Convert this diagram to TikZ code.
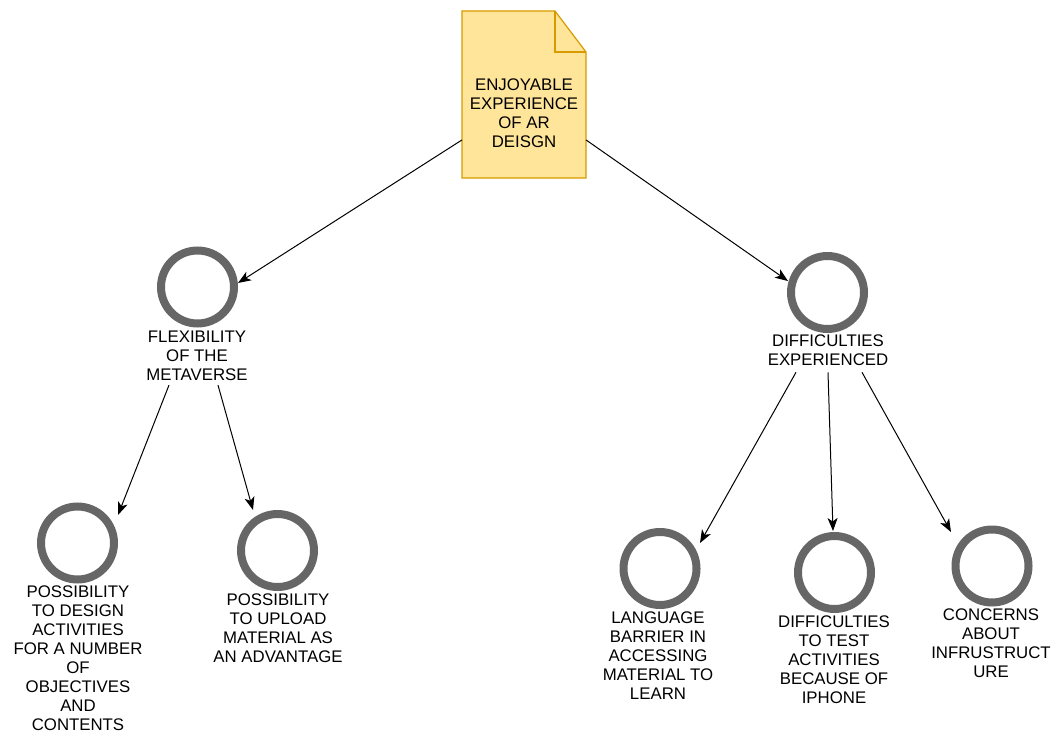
\documentclass[tikz,border=0pt]{standalone}
\usepackage{fontspec}
\setmainfont{Liberation Sans}
\usetikzlibrary{arrows.meta,calc}
\definecolor{notefill}{HTML}{FFE599}
\definecolor{noteline}{HTML}{D79B00}
\definecolor{ringgray}{HTML}{666666}
\begin{document}
\begin{tikzpicture}[x=1pt,y=-1pt,
  ring/.style={circle,draw=ringgray,line width=8pt,fill=white,minimum size=73pt,inner sep=0pt,outer sep=4pt},
  caption/.style={font=\fontsize{16.8}{19}\selectfont,align=center,inner sep=0pt,anchor=north},
  arr/.style={-{Stealth[length=13pt,width=10pt,inset=3.5pt]},line width=1pt,black},
  notebox/.style={minimum width=124pt,minimum height=167pt,inner sep=0pt,outer sep=0pt}]
\useasboundingbox (0,0) rectangle (1057,733);

% document-shaped root node with folded corner
\node[notebox] (note) at (524,94.5) {};
\draw[noteline,fill=notefill,line width=1.2pt,line join=miter]
  (note.south west) -- (note.north west) -- ($(note.north east)+(-31,0)$)
  -- ($(note.north east)+(0,41)$) -- (note.south east) -- cycle;
\draw[noteline,line width=1.2pt]
  ($(note.north east)+(-31,0)$) -- ($(note.north east)+(-31,41)$) -- ($(note.north east)+(0,41)$);
\node[caption] (notetext) at (524,79) {ENJOYABLE\\EXPERIENCE\\OF AR\\DEISGN};

% themes
\node[ring] (c1) at (197.5,287) {};
\node[caption] (t1) at (197,331) {FLEXIBILITY\\OF THE\\METAVERSE};
\node[ring] (c2) at (827.5,292.5) {};
\node[caption] (t2) at (828,335) {DIFFICULTIES\\EXPERIENCED};

% sub-themes
\node[ring] (c3) at (77.5,543) {};
\node[caption] (t3) at (78,586) {POSSIBILITY\\TO DESIGN\\ACTIVITIES\\FOR A NUMBER\\OF\\OBJECTIVES\\AND\\CONTENTS};
\node[ring] (c4) at (277.5,550.5) {};
\node[caption] (t4) at (278,594) {POSSIBILITY\\TO UPLOAD\\MATERIAL AS\\AN ADVANTAGE};
\node[ring] (c5) at (660,568.5) {};
\node[caption] (t5) at (658,612) {LANGUAGE\\BARRIER IN\\ACCESSING\\MATERIAL TO\\LEARN};
\node[ring] (c6) at (834.5,572.5) {};
\node[caption] (t6) at (834,616) {DIFFICULTIES\\TO TEST\\ACTIVITIES\\BECAUSE OF\\IPHONE};
\node[ring] (c7) at (992,566) {};
\node[caption] (t7) at (991,609) {CONCERNS\\ABOUT\\INFRUSTRUCT\\URE};

% connectors
\draw[arr] ($(note.south west)!0.228!(note.north west)$) -- ($(c1.center)+(40.5,-4)$);
\draw[arr] ($(note.south east)!0.228!(note.north east)$) -- ($(c2.center)+(-39.5,-11.5)$);
\draw[arr] ($(t1.south)+(-28,4)$) -- ($(c3.center)+(40.5,-28)$);
\draw[arr] ($(t1.south)+(21,4)$) -- ($(c4.center)+(-24.5,-40.5)$);
\draw[arr] ($(t2.south)+(-32,6)$) -- ($(c5.center)+(40,-25.5)$);
\draw[arr] ($(t2.south)+(0,6)$) -- ($(c6.center)+(-1.5,-41.5)$);
\draw[arr] ($(t2.south)+(34,6)$) -- ($(c7.center)+(-41,-34)$);
\end{tikzpicture}
\end{document}
